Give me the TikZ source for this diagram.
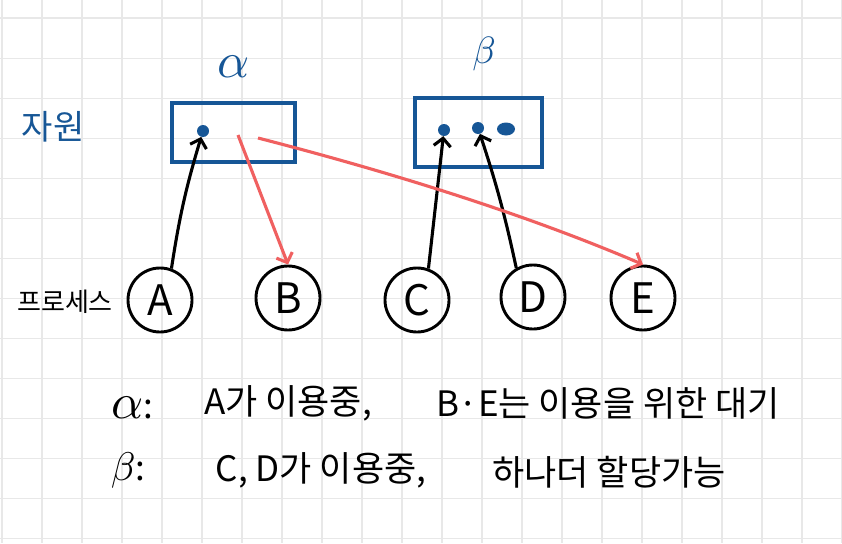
\documentclass[tikz,border=0pt]{standalone}
\usepackage{fontspec}
\setmainfont{Noto Sans CJK KR}
\usetikzlibrary{arrows.meta,shapes.geometric}
\definecolor{inkblue}{RGB}{22,86,150}
\definecolor{inkred}{RGB}{240,96,96}
\definecolor{gridgray}{RGB}{232,232,232}
\newcommand{\bigsym}[2]{\scalebox{#1}{\normalsize$#2$}}
\tikzset{
  proc/.style={circle,draw,line width=2.9pt,minimum size=64pt,inner sep=0pt,font=\fontsize{42}{42}\selectfont},
  res/.style={draw=inkblue,line width=3.2pt,inner sep=0pt},
  dot/.style={circle,fill=inkblue,inner sep=0pt,minimum size=12pt},
  uses/.style={line width=3.1pt,-{Straight Barb[length=8pt,width=17pt]}},
  waits/.style={inkred,line width=3.1pt,-{Straight Barb[length=8pt,width=17pt]}},
  note/.style={font=\fontsize{35}{35}\selectfont}
}
\begin{document}
\begin{tikzpicture}[x=1pt,y=-1pt]
\useasboundingbox[fill=white] (0,0) rectangle (842,543);
\foreach \k in {0,...,21} \draw[gridgray,line width=1.6pt] (1.7+40*\k,0) -- (1.7+40*\k,543);
\foreach \k in {0,...,13} \draw[gridgray,line width=1.6pt] (0,18.3+40*\k) -- (842,18.3+40*\k);
% resources
\node[inkblue,font=\fontsize{34}{34}\selectfont] (reslabel) at (53,127) {자원};
\node[res,minimum width=123pt,minimum height=59pt] (ra) at (233.5,132.5) {};
\node[res,minimum width=127pt,minimum height=69pt] (rb) at (478.5,132.5) {};
\node[inkblue] (alabel) at (234,67) {\bigsym{5}{\alpha}};
\node[inkblue] (blabel) at (484,54) {\bigsym{3.8}{\beta}};
\node[dot] (da) at (203,131) {};
\node[dot] (db1) at (444,130) {};
\node[dot] (db2) at (478,128) {};
\node[dot,ellipse,minimum width=18pt,minimum height=13pt] (db3) at (506,129) {};
% processes
\node[font=\fontsize{26}{26}\selectfont] (proclabel) at (65,302) {프로세스};
\node[proc] (A) at (160,300) {A};
\node[proc] (B) at (288,298) {B};
\node[proc] (C) at (417,300) {C};
\node[proc] (D) at (533,297) {D};
\node[proc] (E) at (643,298) {E};
\coordinate (ra1) at (238,135);
\coordinate (ra2) at (258,138);
\draw[uses] (A.70) to[bend left=4] (da);
\draw[uses] (C.70) -- (db1);
\draw[uses] (D.120) to[bend right=3] (db2);
\draw[waits] (ra1) -- (B.north);
\draw[waits] (ra2) .. controls (390,172) and (525,214) .. (E.north);
% notes
\node[note] (na) at (132,408) {\bigsym{5}{\alpha}:};
\node[note] (na1) at (288,403) {A가 이용중,};
\node[note] (na2) at (608,403) {B·E는 이용을 위한 대기};
\node[note] (nb) at (128,470) {\bigsym{4}{\beta}:};
\node[note] (nb1) at (321,470) {C, D가 이용중,};
\node[note] (nb2) at (609,472) {하나더 할당가능};
\end{tikzpicture}
\end{document}
